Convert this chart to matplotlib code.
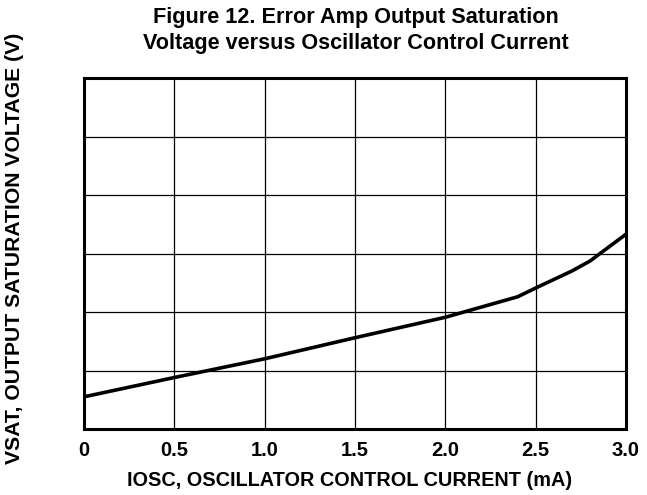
import numpy as np
import matplotlib
matplotlib.use("Agg")
import matplotlib.pyplot as plt

plt.rcParams['font.family'] = ['Liberation Sans', 'DejaVu Sans']
plt.rcParams['font.weight'] = 'bold'

# curve (y in grid divisions, no scale shown)
iosc = [0.0, 0.5, 1.0, 1.5, 2.0, 2.4, 2.5, 2.7, 2.8, 3.0]
vsat = [0.55, 0.88, 1.20, 1.56, 1.91, 2.26, 2.41, 2.70, 2.87, 3.33]
xticks = [0.0, 0.5, 1.0, 1.5, 2.0, 2.5, 3.0]
xlabels = ['0', '0.5', '1.0', '1.5', '2.0', '2.5', '3.0']

fig = plt.figure(figsize=(6.47, 4.95), dpi=100)
ax = fig.add_axes([84/647, 1-429/495, 542/647, 351/495])

ax.plot(iosc, vsat, color='black', lw=2.6, solid_capstyle='butt')
ax.set_xlim(0, 3.0)
ax.set_ylim(0, 6)
ax.set_xticks(xticks)
ax.set_xticklabels(xlabels, fontsize=14.5, fontweight='bold')
ax.set_yticks(np.arange(0, 7, 1))
ax.set_yticklabels([])
ax.tick_params(length=0, pad=9)
ax.grid(True, color='black', lw=0.9)
for s in ax.spines.values():
    s.set_linewidth(2.2)

fig.text(350/647, 1-480/495, 'IOSC, OSCILLATOR CONTROL CURRENT (mA)', fontsize=14.3,
         fontweight='bold', ha='center', va='center')
fig.text(15/647, 1-248/495, 'VSAT, OUTPUT SATURATION VOLTAGE (V)', rotation=90,
         fontsize=15.2, fontweight='bold', ha='center', va='center')
fig.text(356/647, 1-17/495, 'Figure 12. Error Amp Output Saturation',
         fontsize=15.6, fontweight='bold', ha='center', va='center')
fig.text(356/647, 1-44/495, 'Voltage versus Oscillator Control Current',
         fontsize=15.6, fontweight='bold', ha='center', va='center')

fig.savefig('out.png', dpi=100)
